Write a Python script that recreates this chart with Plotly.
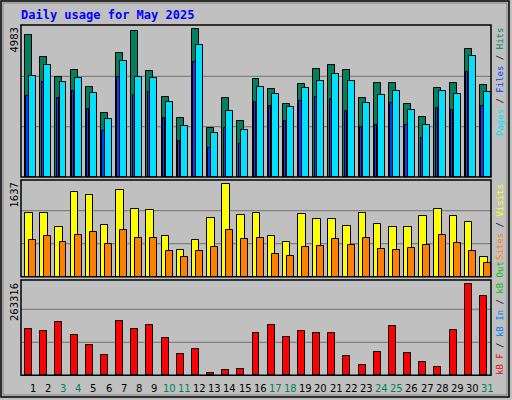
import plotly.graph_objects as go

days = list(range(1, 32))
hits = [4686,3960,3300,3531,2970,2112,4092,4818,3498,2640,1947,4884,1617,2607,1848,3234,
        2904,2409,3069,3564,3696,3531,2607,3102,3102,2409,1980,2937,3102,4224,3036]
pages = [3333,3696,3135,3267,2772,1914,3828,3300,3267,2475,1683,4356,1452,2178,1551,2970,
         2739,2310,2937,3168,3399,3168,2442,2706,2838,2211,1716,2838,2739,3993,2805]
files = [2673,3135,2607,2838,2244,1518,3300,2706,2805,1947,1188,3795,957,1617,1089,2475,
         2343,1848,2508,2640,2574,2178,1650,1716,2442,1716,1287,2277,2211,3465,2343]
visits = [1047,1047,816,1395,1345,849,1428,1114,1097,667,435,601,965,1527,1014,1047,
          667,568,1031,948,948,833,1047,866,816,816,998,1114,998,899,320]
sites = [601,667,568,684,733,535,766,634,634,419,320,419,485,766,618,634,
         370,337,485,502,618,519,634,452,436,469,519,684,552,419,221]
kbytes = [122360,117040,140980,106400,79800,53200,143640,122360,133000,98420,55860,69160,
          5320,13300,15960,111720,133000,101080,117040,111720,111720,50540,26600,61180,
          130340,58520,34580,21280,119700,242060,210140]
weekend = [3,4,10,11,17,18,24,25,31]
max_labels = ["4983", "1637", "263316"]
title = "Daily usage for May 2025"

W, H = 512, 400
def px(x): return x / W
def py(y): return 1 - y / H

panels = [(25, 177, 5016, 1661), (180, 276.7, 1599, 546), (280, 375.3, 253500, 87780)]
GREEN = "#00805c"
fig = go.Figure()
line = dict(color="black", width=1)

def bar(y, axis, color, off, w):
    fig.add_trace(go.Bar(x=days, y=y, xaxis="x", yaxis=axis, marker=dict(color=color, line=line),
                         offset=off, width=w, showlegend=False, hoverinfo="skip"))

bar(hits, "y", GREEN, -0.23, 0.46)
bar(pages, "y", "#00e0ff", 0.04, 0.46)
bar(files, "y", "#0040ff", -0.14, 0.15)
bar(visits, "y2", "#ffff00", -0.23, 0.5)
bar(sites, "y2", "#ff8000", 0.04, 0.46)
bar(kbytes, "y3", "#ff0000", -0.23, 0.46)

shapes = []
shapes.append(dict(type="rect", xref="paper", yref="paper", x0=px(1), x1=px(509), y0=py(397), y1=py(1),
                   line=dict(color="black", width=1.5), layer="below"))
shapes.append(dict(type="rect", xref="paper", yref="paper", x0=px(3), x1=px(507), y0=py(395), y1=py(3),
                   line=dict(color="#808080", width=1), layer="below"))
axnames = ["y", "y2", "y3"]
layout_axes = {}
for i, (top, bot, rng, g) in enumerate(panels):
    key = "yaxis" if i == 0 else f"yaxis{i+1}"
    layout_axes[key] = dict(domain=[py(bot), py(top)], range=[0, rng], showgrid=False, zeroline=False,
                            showticklabels=False, fixedrange=True)
    for gv in (g, 2 * g):
        shapes.append(dict(type="line", xref="x", yref=axnames[i], x0=0.5, x1=31.5, y0=gv, y1=gv,
                           line=dict(color="#808080", width=1.2), layer="below"))
    shapes.append(dict(type="rect", xref="paper", yref="paper", x0=px(21), x1=px(491), y0=py(bot), y1=py(top),
                       line=dict(color="black", width=1.5), layer="above"))

ann = []
ann.append(dict(text=f"<b>{title}</b>", x=px(19), y=py(15), xref="paper", yref="paper", xanchor="left",
                yanchor="middle", showarrow=False, font=dict(family="DejaVu Sans Mono", size=12, color="#0000ff")))
for i, (top, bot, rng, g) in enumerate(panels):
    ann.append(dict(text=max_labels[i], x=px(14), y=py(top + 1), xref="paper", yref="paper", xanchor="center",
                    yanchor="top", textangle=-90, showarrow=False,
                    font=dict(family="DejaVu Sans", size=10, color="black")))
for d in days:
    c = GREEN if d in weekend else "black"
    ann.append(dict(text=str(d), x=d + 0.28, y=py(388), xref="x", yref="paper", showarrow=False,
                    xanchor="center", yanchor="middle", font=dict(family="DejaVu Sans", size=10, color=c)))
mono = dict(family="DejaVu Sans Mono", size=9)
def sp(t, c): return f'<span style="color:{c}">{t}</span>'
legs = [
    (sp("Pages", "#00e0ff") + sp(" / ", "black") + sp("Files", "#0040ff") + sp(" / ", "black") + sp("Hits", GREEN), 138),
    (sp("Sites", "#ff8000") + sp(" / ", "black") + sp("Visits", "#ffff00"), 262),
    (sp("kB F", "#ff0000") + sp(" / ", "black") + sp("kB In", "#0080ff") + sp(" / ", "black") + sp("kB Out", "#00c000"), 377),
]
for t, yb in legs:
    ann.append(dict(text=t, x=px(500), y=py(yb), xref="paper", yref="paper", xanchor="center", yanchor="bottom",
                    textangle=-90, showarrow=False, font=mono))

fig.update_layout(width=W, height=H, margin=dict(l=0, r=0, t=0, b=0), paper_bgcolor="#c0c0c0",
                  plot_bgcolor="rgba(0,0,0,0)", barmode="overlay", bargap=0,
                  xaxis=dict(domain=[px(21), px(491)], range=[0.5, 31.5], showticklabels=False, showgrid=False,
                             zeroline=False, fixedrange=True),
                  shapes=shapes, annotations=ann, **layout_axes)
fig.write_html("out.html", config={"displayModeBar": False},
               post_script="document.body.style.margin='0';document.body.style.overflow='hidden';")
